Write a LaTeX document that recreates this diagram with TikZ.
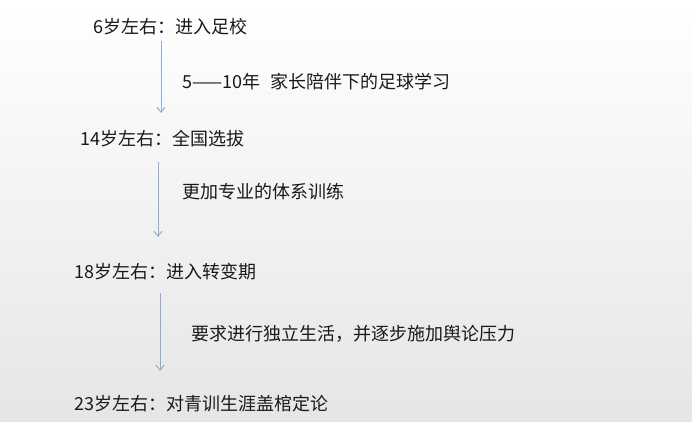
\documentclass[tikz,border=0pt]{standalone}
\usepackage{fontspec}
\setmainfont{Noto Sans CJK SC}
\usepackage{tikz}
\usetikzlibrary{arrows.meta}

\definecolor{flowblue}{RGB}{143,170,220}
\tikzset{
    stage/.style={anchor=west, inner sep=0pt, text=black!90, font=\fontsize{18pt}{20pt}\selectfont},
    note/.style={stage},
    flow/.style={draw=flowblue, line width=1pt, -{Straight Barb[length=5pt,width=8pt]}}
}

\begin{document}
\begin{tikzpicture}[x=1pt,y=1pt]
            \shade[top color=white, bottom color=gray!20] (0,0) rectangle (692,422);
            \useasboundingbox (0,0) rectangle (692,422);
            \node[stage] (age6) at (93,395) {6岁左右：进入足校};
            \node[note] (learn) at (182,340) {5——10年\hspace{10pt}家长陪伴下的足球学习};
            \node[stage] (age14) at (80,283) {14岁左右：全国选拔};
            \node[note] (train) at (182,230) {更加专业的体系训练};
            \node[stage] (age18) at (74,150) {18岁左右：进入转变期};
            \node[note] (press) at (191,88) {要求进行独立生活，并逐步施加舆论压力};
            \node[stage] (age23) at (74,18) {23岁左右：对青训生涯盖棺定论};
            \coordinate (s1) at (161,381);
            \coordinate (e1) at (161,309);
            \coordinate (s2) at (158,260);
            \coordinate (e2) at (158,185);
            \coordinate (s3) at (160,129);
            \coordinate (e3) at (160,51);
            \draw[flow] (s1) -- (e1);
            \draw[flow] (s2) -- (e2);
            \draw[flow] (s3) -- (e3);
        \end{tikzpicture}
\end{document}
